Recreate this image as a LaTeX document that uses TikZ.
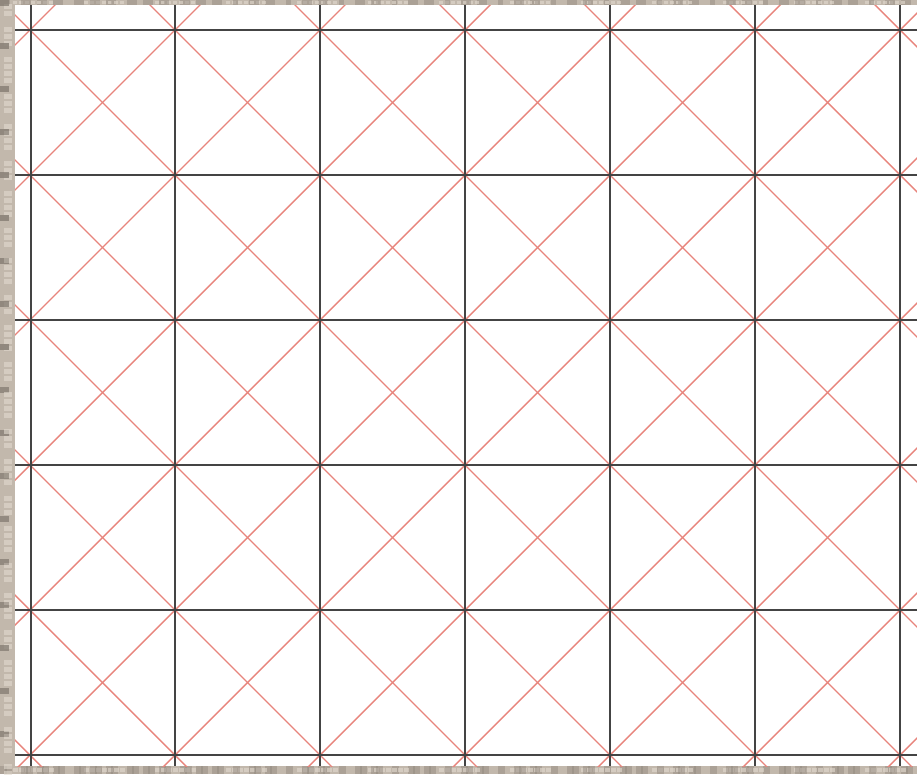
\documentclass[tikz,border=0pt]{standalone}
\definecolor{framec}{HTML}{C2B8AC}
\definecolor{framed}{HTML}{8F877D}
\definecolor{framel}{HTML}{E2DACF}
\definecolor{gridk}{HTML}{444444}
\definecolor{gridr}{HTML}{E8847C}
\begin{document}
\begin{tikzpicture}[x=1pt,y=-1pt,
  gridline/.style={draw=gridk,line width=1.6pt},
  diagline/.style={draw=gridr,line width=1.4pt}]
\useasboundingbox (0,0) rectangle (917,774);
% textured frame
\fill[framec] (0,0) rectangle (917,774);
\foreach \i in {0,...,90}{
  \pgfmathsetmacro{\xx}{mod(\i*53,917)}
  \pgfmathsetmacro{\xb}{mod(\i*71+13,917)}
  \fill[framed,opacity=0.45] (\xx,0) rectangle ++(5,5);
  \fill[framel,opacity=0.6] (\xb,1) rectangle ++(4,3);
  \fill[framed,opacity=0.45] (\xx,766) rectangle ++(7,8);
  \fill[framel,opacity=0.6] (\xb,768) rectangle ++(5,4);
}
\foreach \i in {0,...,80}{
  \pgfmathsetmacro{\yy}{mod(\i*43,774)}
  \pgfmathsetmacro{\yb}{mod(\i*67+11,774)}
  \fill[framed,opacity=0.45] (0,\yy) rectangle ++(9,6);
  \fill[framel,opacity=0.6] (4,\yb) rectangle ++(8,5);
}
\fill[white] (15,5) rectangle (917,766);
\begin{scope}
\clip (15,5) rectangle (917,766);
% red diagonals
\foreach \k in {-6,...,7}{
  \draw[diagline] (30+\k*145-800,30-800) -- (30+\k*145+800,30+800);
}
\foreach \k in {-1,...,12}{
  \draw[diagline] (30+\k*145-800,30+800) -- (30+\k*145+800,30-800);
}
% black grid
\foreach \x in {31,175,320,465,610,755,900}{
  \draw[gridline] (\x,5) -- (\x,766);
}
\foreach \y in {30,175,320,465,610,755}{
  \draw[gridline] (15,\y) -- (917,\y);
}
\end{scope}
\end{tikzpicture}
\end{document}
